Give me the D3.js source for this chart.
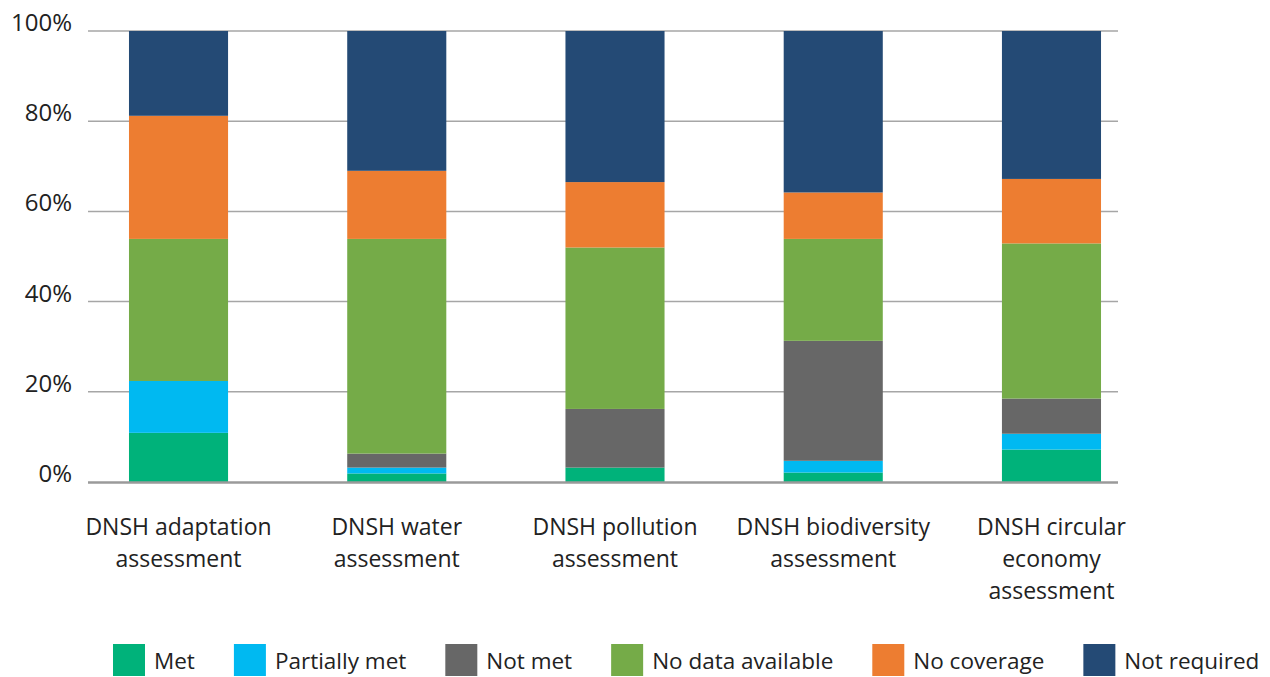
<!DOCTYPE html>
<html>
<head>
<meta charset="utf-8">
<script src="https://cdn.jsdelivr.net/npm/d3@7"></script>
<style>
  html, body { margin: 0; padding: 0; background: #fff; }
  svg text { font-family: "Open Sans", "Noto Sans", sans-serif; fill: #222; }
</style>
</head>
<body>
<svg id="chart" width="1270" height="677"></svg>
<script>
// Assessment categories (label lines)
const categories = [
  ["DNSH adaptation", "assessment"],
  ["DNSH water", "assessment"],
  ["DNSH pollution", "assessment"],
  ["DNSH biodiversity", "assessment"],
  ["DNSH circular", "economy", "assessment"]
];

// Share of each outcome per assessment, in percent
const met           = [10.9, 1.9, 3.2, 2.1, 7.2];
const partiallyMet  = [11.5, 1.3, 0.0, 2.6, 3.5];
const notMet        = [0.0, 3.1, 13.0, 26.6, 7.8];
const noData        = [31.5, 47.6, 35.8, 22.6, 34.4];
const noCoverage    = [27.3, 15.1, 14.5, 10.3, 14.3];
const notRequired   = [18.8, 31.0, 33.5, 35.8, 32.8];

const seriesNames  = ["Met", "Partially met", "Not met", "No data available", "No coverage", "Not required"];
const seriesColors = ["#00b27a", "#00b9f1", "#676767", "#75ab48", "#ed7d31", "#244a75"];
const yTicks = [0, 20, 40, 60, 80, 100];

const seriesValues = [met, partiallyMet, notMet, noData, noCoverage, notRequired];

// Build rows for the stack generator
const rows = categories.map((c, i) => {
  const r = { idx: i };
  seriesNames.forEach((s, k) => { r[s] = seriesValues[k][i]; });
  return r;
});

const svg = d3.select("#chart");

const gridLeft = 88, gridRight = 1118;
const x = d3.scaleBand()
  .domain(d3.range(categories.length))
  .range([69.4, 1160.6])
  .paddingInner(0.546)
  .paddingOuter(0.273);

const y = d3.scaleLinear().domain([0, 100]).range([482, 31]);

// Horizontal gridlines
svg.append("g")
  .selectAll("line")
  .data(yTicks.filter(t => t !== 0))
  .join("line")
  .attr("x1", gridLeft).attr("x2", gridRight)
  .attr("y1", d => y(d)).attr("y2", d => y(d))
  .attr("stroke", "#a6a6a6")
  .attr("stroke-width", 1.5);

// Y tick labels
svg.append("g")
  .selectAll("text")
  .data(yTicks)
  .join("text")
  .attr("x", 72)
  .attr("y", d => y(d))
  .attr("text-anchor", "end")
  .attr("font-size", 24)
  .text(d => d + "%");

// Stacked bars
const stack = d3.stack().keys(seriesNames);
const layers = stack(rows);

svg.append("g")
  .selectAll("g")
  .data(layers)
  .join("g")
  .attr("fill", (d, k) => seriesColors[k])
  .selectAll("rect")
  .data(d => d)
  .join("rect")
  .attr("x", d => x(d.data.idx))
  .attr("width", x.bandwidth())
  .attr("y", d => y(d[1]))
  .attr("height", d => y(d[0]) - y(d[1]));

// Baseline axis
svg.append("line")
  .attr("x1", gridLeft).attr("x2", gridRight)
  .attr("y1", y(0) + 0.5).attr("y2", y(0) + 0.5)
  .attr("stroke", "#9a9a9a")
  .attr("stroke-width", 2.5);

// Category labels
const catG = svg.append("g");
categories.forEach((lines, i) => {
  const t = catG.append("text")
    .attr("text-anchor", "middle")
    .attr("font-size", 23);
  lines.forEach((ln, j) => {
    t.append("tspan")
      .attr("x", x(i) + x.bandwidth() / 2)
      .attr("y", 535 + j * 32)
      .text(ln);
  });
});

// Legend
const legend = svg.append("g");
let lx = 113;
seriesNames.forEach((name, k) => {
  legend.append("rect")
    .attr("x", lx).attr("y", 644)
    .attr("width", 32).attr("height", 32)
    .attr("fill", seriesColors[k]);
  const t = legend.append("text")
    .attr("x", lx + 41)
    .attr("y", 669)
    .attr("font-size", 22.5)
    .text(name);
  lx += 41 + t.node().getComputedTextLength() + 39;
});
</script>
</body>
</html>
